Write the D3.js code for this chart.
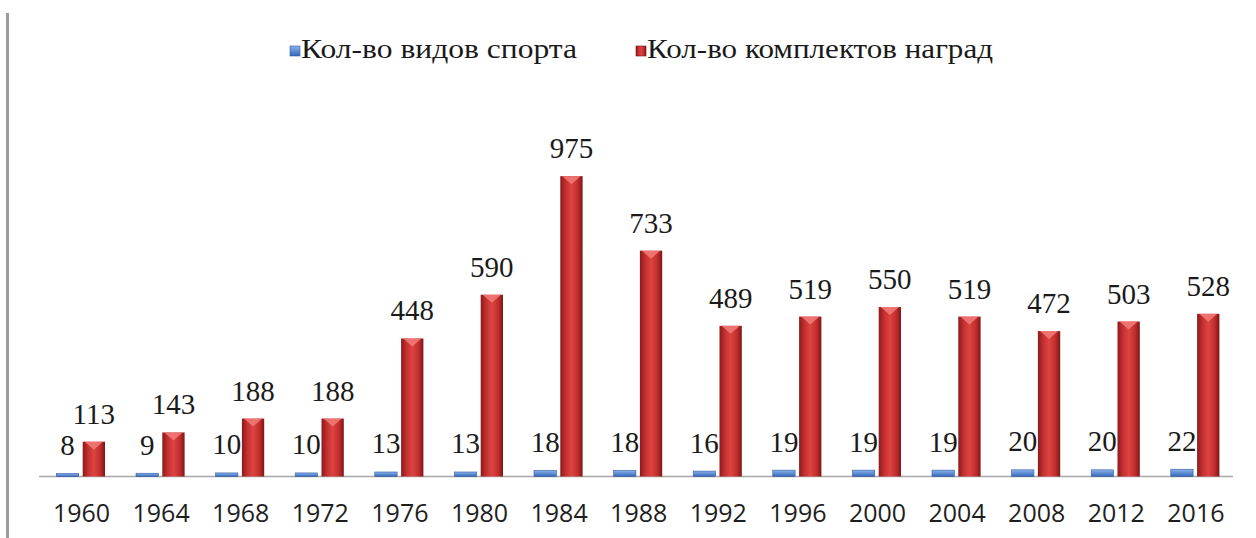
<!DOCTYPE html>
<html>
<head>
<meta charset="utf-8">
<script src="https://cdn.jsdelivr.net/npm/d3@7"></script>
<style>
  body { margin: 0; background: #fff; }
  svg { display: block; }
</style>
</head>
<body>
<div id="chart"></div>
<script>
// Olympic years, number of sports, number of medal sets
var years = ["1960", "1964", "1968", "1972", "1976", "1980", "1984", "1988",
             "1992", "1996", "2000", "2004", "2008", "2012", "2016"];
var sports = [8, 9, 10, 10, 13, 13, 18, 18, 16, 19, 19, 19, 20, 20, 22];
var medals = [113, 143, 188, 188, 448, 590, 975, 733, 489, 519, 550, 519, 472, 503, 528];
var seriesNames = ["Кол-во видов спорта", "Кол-во комплектов наград"];

var width = 1256;
var height = 538;
var baseY = 476.5;
var serif = "'Liberation Serif', 'Times New Roman', serif";

var svg = d3.select("#chart").
append("svg").
attr("width", width).
attr("height", height);

var defs = svg.append("defs");

var redGrad = defs.append("linearGradient").attr("id", "redGrad").
attr("x1", "0%").attr("x2", "100%").attr("y1", "0%").attr("y2", "0%");
redGrad.append("stop").attr("offset", "0%").attr("stop-color", "#8c1a1a");
redGrad.append("stop").attr("offset", "25%").attr("stop-color", "#c53030");
redGrad.append("stop").attr("offset", "50%").attr("stop-color", "#dc4442");
redGrad.append("stop").attr("offset", "78%").attr("stop-color", "#c22e2d");
redGrad.append("stop").attr("offset", "100%").attr("stop-color", "#7e1616");

var blueGrad = defs.append("linearGradient").attr("id", "blueGrad").
attr("x1", "0%").attr("x2", "0%").attr("y1", "0%").attr("y2", "100%");
blueGrad.append("stop").attr("offset", "0%").attr("stop-color", "#8ab4ec");
blueGrad.append("stop").attr("offset", "100%").attr("stop-color", "#3566b8");

// left frame line
svg.append("rect").
attr("x", 6).attr("y", 13).
attr("width", 3).attr("height", height - 13).
attr("fill", "#9c9c9c");

var xScale = d3.scaleBand().
domain(years).
range([41.7, 1235.7]).
padding(0);

var xSub = d3.scaleBand().
domain(["sports", "medals"]).
range([14.7, 63.3]).
paddingInner(0.152);

var yScale = d3.scaleLinear().
domain([0, 1300]).
range([baseY, 76]);

// baseline
svg.append("line").
attr("x1", 39).attr("x2", 1233).
attr("y1", baseY).attr("y2", baseY).
attr("stroke", "#a8a8a8").
attr("stroke-width", 1.5);

var groups = svg.selectAll(".grp").
data(years).
enter().
append("g").
attr("class", "grp").
attr("transform", function (d) {return "translate(" + xScale(d) + ",0)";});

// blue bars
groups.append("rect").
attr("x", xSub("sports")).
attr("y", function (d, i) {return yScale(sports[i]) - 0.5;}).
attr("width", xSub.bandwidth()).
attr("height", function (d, i) {return baseY - yScale(sports[i]) + 0.5;}).
attr("fill", "url(#blueGrad)").
attr("stroke", "#2f5aa0").
attr("stroke-width", 0.6);

// red bars
groups.append("rect").
attr("x", xSub("medals")).
attr("y", function (d, i) {return yScale(medals[i]);}).
attr("width", xSub.bandwidth()).
attr("height", function (d, i) {return baseY - yScale(medals[i]);}).
attr("fill", "url(#redGrad)");

// bevel at top of red bars
groups.append("path").
attr("d", function (d, i) {
   var x0 = xSub("medals"), w = xSub.bandwidth(), t = yScale(medals[i]);
   return "M" + (x0 + 2) + "," + t + "L" + (x0 + w - 2) + "," + t + "L" + (x0 + w / 2) + "," + (t + 8) + "Z";
}).
attr("fill", "#f27b78").
attr("opacity", 0.85);

// value labels
groups.append("text").
attr("x", xSub("sports") + xSub.bandwidth() / 2).
attr("y", function (d, i) {return yScale(sports[i]) - 19;}).
attr("text-anchor", "middle").
style("font-family", serif).
style("font-size", "29px").
attr("fill", "#1a1a1a").
text(function (d, i) {return sports[i];});

groups.append("text").
attr("x", xSub("medals") + xSub.bandwidth() / 2).
attr("y", function (d, i) {return yScale(medals[i]) - 18;}).
attr("text-anchor", "middle").
style("font-family", serif).
style("font-size", "29px").
attr("fill", "#1a1a1a").
text(function (d, i) {return medals[i];});

// category labels
svg.selectAll(".year").
data(years).
enter().
append("text").
attr("class", "year").
attr("x", function (d) {return xScale(d) + xScale.bandwidth() / 2;}).
attr("y", 522).
attr("text-anchor", "middle").
style("font-family", "'Open Sans'").
style("font-size", "25px").
attr("fill", "#1e1e1e").
text(function (d) {return d;});

// legend
var legendItems = [
   { name: seriesNames[0], fill: "url(#blueGrad)", stroke: "#2f5aa0", x: 290, len: 276 },
   { name: seriesNames[1], fill: "url(#redGrad)", stroke: "#7e1616", x: 636, len: 346 }];

var legend = svg.selectAll(".legend").
data(legendItems).
enter().
append("g").
attr("class", "legend").
attr("transform", function (d) {return "translate(" + d.x + ",0)";});

legend.append("rect").
attr("x", 0).attr("y", 46).
attr("width", 10).attr("height", 10).
attr("fill", function (d) {return d.fill;}).
attr("stroke", function (d) {return d.stroke;}).
attr("stroke-width", 0.6);

legend.append("text").
attr("x", 11).
attr("y", 58).
attr("textLength", function (d) {return d.len;}).
attr("lengthAdjust", "spacingAndGlyphs").
style("font-family", serif).
style("font-size", "28px").
attr("fill", "#1a1a1a").
text(function (d) {return d.name;});
</script>
</body>
</html>
